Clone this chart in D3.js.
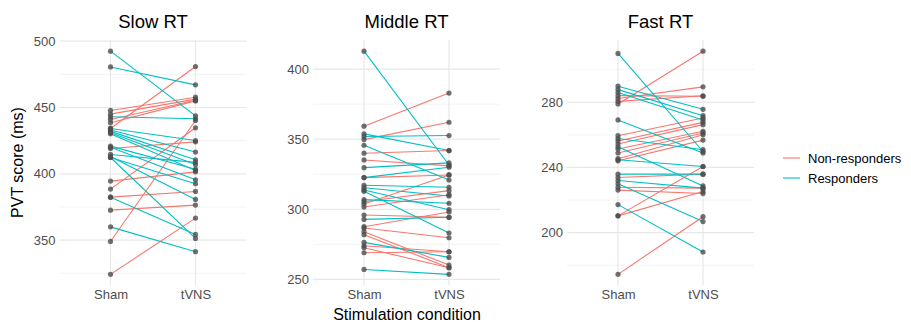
<!DOCTYPE html>
<html>
<head>
<meta charset="utf-8">
<script src="https://cdn.jsdelivr.net/npm/d3@7"></script>
<style>
  body { margin: 0; background: #fff; }
  svg { display: block; font-family: "Liberation Sans", Arial, sans-serif; }
</style>
</head>
<body>
<svg id="chart" width="911" height="322"></svg>
<script>
// ---------- data ----------
const conditions = ["Sham", "tVNS"];
const groups = ["Non-responders", "Responders"];
const panelTitles = ["Slow RT", "Middle RT", "Fast RT"];
const yTicks = [[350, 400, 450, 500], [250, 300, 350, 400], [200, 240, 280]];
const yMinor = [[325, 375, 425, 475], [275, 325, 375], [180, 220, 260, 300]];

// each subject: [sham, tVNS, group index (0 = Non-responders, 1 = Responders)]
const slowRT = [
  [434.2, 480.9, 0], [447.8, 457.8, 0], [445.0, 456.3, 0], [441.0, 455.5, 0], [438.5, 455.0, 0],
  [419.1, 424.1, 0], [394.5, 401.5, 0], [388.5, 434.7, 0], [382.4, 386.7, 0], [372.6, 376.4, 0],
  [349.0, 440.2, 0], [324.2, 366.6, 0],
  [492.5, 443.7, 1], [480.6, 467.1, 1], [443.0, 441.5, 1], [434.2, 425.1, 1], [433.0, 416.4, 1],
  [432.0, 410.6, 1], [431.0, 407.1, 1], [430.2, 402.5, 1], [420.9, 403.5, 1], [414.6, 408.6, 1],
  [420.0, 395.5, 1], [412.3, 392.5, 1], [413.0, 380.7, 1], [412.3, 351.3, 1], [382.4, 354.3, 1],
  [360.0, 341.3, 1]
];
const middleRT = [
  [359.3, 382.9, 0], [349.7, 362.1, 0], [340.0, 341.9, 0], [335.2, 331.0, 0], [322.6, 324.5, 0],
  [305.4, 313.3, 0], [303.8, 324.5, 0], [301.6, 310.4, 0], [295.9, 294.3, 0], [287.6, 298.1, 0],
  [286.6, 279.7, 0], [284.0, 260.2, 0], [281.9, 258.3, 0], [274.0, 269.7, 0], [272.6, 258.3, 0],
  [269.0, 269.7, 0],
  [412.8, 331.6, 1], [353.8, 341.9, 1], [351.9, 352.6, 1], [345.7, 320.9, 1], [329.7, 333.1, 1],
  [322.6, 330.0, 1], [317.1, 315.7, 1], [315.4, 309.5, 1], [313.8, 299.7, 1], [312.8, 283.1, 1],
  [292.8, 294.3, 1], [276.4, 265.7, 1], [257.1, 253.6, 1], [306.9, 304.3, 1]
];
const fastRT = [
  [279.0, 311.4, 0], [282.3, 289.5, 0], [284.1, 283.7, 0], [280.6, 284.0, 0], [259.5, 270.4, 0],
  [256.2, 267.7, 0], [254.4, 266.3, 0], [251.3, 262.2, 0], [248.9, 261.2, 0], [245.4, 260.1, 0],
  [244.1, 256.8, 0], [233.8, 235.9, 0], [226.1, 224.0, 0], [210.3, 240.6, 0], [210.3, 225.2, 0],
  [174.4, 209.8, 0], [227.9, 227.3, 0],
  [310.0, 249.8, 1], [289.9, 275.7, 1], [287.8, 271.8, 1], [286.0, 269.2, 1], [269.2, 248.9, 1],
  [257.8, 250.9, 1], [252.7, 228.7, 1], [244.7, 240.6, 1], [235.9, 235.9, 1], [232.0, 227.3, 1],
  [230.0, 206.8, 1], [217.2, 188.1, 1]
];
const panelsData = [slowRT, middleRT, fastRT];

// ---------- layout ----------
const colors = d3.scaleOrdinal().domain(groups).range(["#F8766D", "#00BFC4"]);
const panelLeft = [59.5, 313, 567];
const panelW = 187;
const plotTop = 40, plotBottom = 285.5;
const svg = d3.select("#chart");
const FONT = "'Liberation Sans', Arial, sans-serif";

panelsData.forEach((data, i) => {
  const g = svg.append("g");
  // ggplot discrete expansion: 0.6 units each side, 1 unit between levels
  const unit = panelW / 2.2;
  const x = d3.scalePoint().domain(conditions)
    .range([panelLeft[i] + 0.6 * unit, panelLeft[i] + 1.6 * unit]).padding(0);

  const vals = data.flatMap(d => [d[0], d[1]]);
  const [lo, hi] = d3.extent(vals);
  const pad = (hi - lo) * 0.05;
  const y = d3.scaleLinear().domain([lo - pad, hi + pad]).range([plotBottom, plotTop]);

  // minor grid
  g.selectAll(".minor").data(yMinor[i].filter(v => v >= y.domain()[0] && v <= y.domain()[1]))
    .enter().append("line")
    .attr("x1", panelLeft[i]).attr("x2", panelLeft[i] + panelW)
    .attr("y1", d => y(d)).attr("y2", d => y(d))
    .attr("stroke", "#ebebeb").attr("stroke-width", 0.6);
  // major grid
  g.selectAll(".major").data(yTicks[i]).enter().append("line")
    .attr("x1", panelLeft[i]).attr("x2", panelLeft[i] + panelW)
    .attr("y1", d => y(d)).attr("y2", d => y(d))
    .attr("stroke", "#e8e8e8").attr("stroke-width", 1.2);
  g.selectAll(".vgrid").data(conditions).enter().append("line")
    .attr("x1", d => x(d)).attr("x2", d => x(d))
    .attr("y1", plotTop).attr("y2", plotBottom)
    .attr("stroke", "#e8e8e8").attr("stroke-width", 1.2);

  // y axis
  const yAxis = d3.axisLeft(y).tickValues(yTicks[i]).tickSize(0).tickPadding(4);
  const ya = g.append("g").attr("transform", `translate(${panelLeft[i]},0)`).call(yAxis);
  ya.select(".domain").remove();
  ya.selectAll("text").attr("fill", "#4d4d4d").style("font-size", "13px").style("font-family", FONT);

  // x axis
  const xAxis = d3.axisBottom(x).tickSize(0).tickPadding(4);
  const xa = g.append("g").attr("transform", `translate(0,${plotBottom})`).call(xAxis);
  xa.select(".domain").remove();
  xa.selectAll("text").attr("fill", "#4d4d4d").style("font-size", "13px").style("font-family", FONT);

  // lines
  g.selectAll(".pair").data(data).enter().append("line")
    .attr("x1", x("Sham")).attr("x2", x("tVNS"))
    .attr("y1", d => y(d[0])).attr("y2", d => y(d[1]))
    .attr("stroke", d => colors(groups[d[2]]))
    .attr("stroke-width", 1.1);

  // points
  const pts = data.flatMap(d => [[x("Sham"), d[0]], [x("tVNS"), d[1]]]);
  g.selectAll(".pt").data(pts).enter().append("circle")
    .attr("cx", d => d[0]).attr("cy", d => y(d[1])).attr("r", 2.6)
    .attr("fill", "#4d4d4d").attr("fill-opacity", 0.8);

  // title
  g.append("text").attr("x", panelLeft[i] + panelW / 2).attr("y", 28)
    .attr("text-anchor", "middle").attr("fill", "#000")
    .style("font-size", "18.5px").text(panelTitles[i]);
});

// axis titles
svg.append("text").attr("transform", "translate(23,162.5) rotate(-90)")
  .attr("text-anchor", "middle").style("font-size", "16px").attr("fill", "#000")
  .text("PVT score (ms)");
svg.append("text").attr("x", 407).attr("y", 319.5)
  .attr("text-anchor", "middle").style("font-size", "16px").attr("fill", "#000")
  .text("Stimulation condition");

// legend
const leg = svg.append("g");
groups.forEach((gname, k) => {
  const yy = 158 + k * 20;
  leg.append("line").attr("x1", 783).attr("x2", 800).attr("y1", yy).attr("y2", yy)
    .attr("stroke", colors(gname)).attr("stroke-width", 1.1);
  leg.append("text").attr("x", 808).attr("y", yy + 4.5)
    .style("font-size", "13px").attr("fill", "#000").text(gname);
});
</script>
</body>
</html>
